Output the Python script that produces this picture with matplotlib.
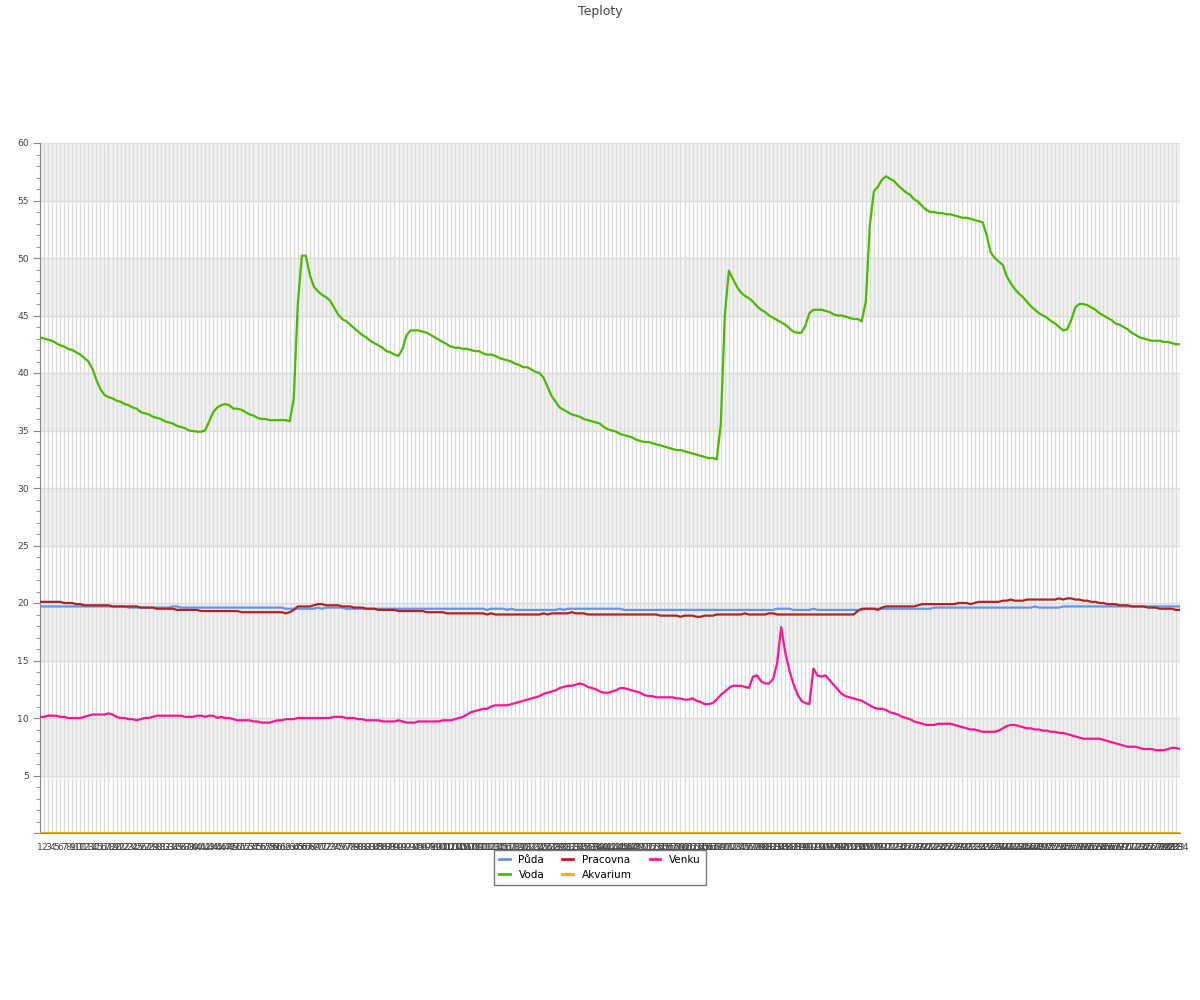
import matplotlib
matplotlib.use("Agg")
import matplotlib.pyplot as plt
from matplotlib.ticker import MultipleLocator, FuncFormatter
from matplotlib.lines import Line2D

labels = [str(i) for i in range(1, 285)]

puda = [
    19.7, 19.7, 19.7, 19.7, 19.7, 19.7, 19.7, 19.7, 19.7, 19.7,
    19.7, 19.7, 19.7, 19.7, 19.7, 19.7, 19.7, 19.7, 19.7, 19.7,
    19.7, 19.7, 19.6, 19.6, 19.6, 19.6, 19.6, 19.6, 19.6, 19.6,
    19.6, 19.6, 19.6, 19.7, 19.7, 19.6, 19.6, 19.6, 19.6, 19.6,
    19.6, 19.6, 19.6, 19.6, 19.6, 19.6, 19.6, 19.6, 19.6, 19.6,
    19.6, 19.6, 19.6, 19.6, 19.6, 19.6, 19.6, 19.6, 19.6, 19.6,
    19.6, 19.5, 19.5, 19.5, 19.5, 19.5, 19.5, 19.5, 19.5, 19.6,
    19.5, 19.6, 19.6, 19.6, 19.6, 19.6, 19.5, 19.5, 19.5, 19.5,
    19.5, 19.5, 19.5, 19.5, 19.5, 19.5, 19.5, 19.5, 19.5, 19.5,
    19.5, 19.5, 19.5, 19.5, 19.5, 19.5, 19.5, 19.5, 19.5, 19.5,
    19.5, 19.5, 19.5, 19.5, 19.5, 19.5, 19.5, 19.5, 19.5, 19.5,
    19.5, 19.4, 19.5, 19.5, 19.5, 19.5, 19.4, 19.5, 19.4, 19.4,
    19.4, 19.4, 19.4, 19.4, 19.4, 19.4, 19.4, 19.4, 19.4, 19.5,
    19.4, 19.5, 19.5, 19.5, 19.5, 19.5, 19.5, 19.5, 19.5, 19.5,
    19.5, 19.5, 19.5, 19.5, 19.5, 19.4, 19.4, 19.4, 19.4, 19.4,
    19.4, 19.4, 19.4, 19.4, 19.4, 19.4, 19.4, 19.4, 19.4, 19.4,
    19.4, 19.4, 19.4, 19.4, 19.4, 19.4, 19.4, 19.4, 19.4, 19.4,
    19.4, 19.4, 19.4, 19.4, 19.4, 19.4, 19.4, 19.4, 19.4, 19.4,
    19.4, 19.4, 19.4, 19.5, 19.5, 19.5, 19.5, 19.4, 19.4, 19.4,
    19.4, 19.4, 19.5, 19.4, 19.4, 19.4, 19.4, 19.4, 19.4, 19.4,
    19.4, 19.4, 19.4, 19.4, 19.4, 19.5, 19.5, 19.5, 19.5, 19.5,
    19.5, 19.5, 19.5, 19.5, 19.5, 19.5, 19.5, 19.5, 19.5, 19.5,
    19.5, 19.5, 19.6, 19.6, 19.6, 19.6, 19.6, 19.6, 19.6, 19.6,
    19.6, 19.6, 19.6, 19.6, 19.6, 19.6, 19.6, 19.6, 19.6, 19.6,
    19.6, 19.6, 19.6, 19.6, 19.6, 19.6, 19.6, 19.7, 19.6, 19.6,
    19.6, 19.6, 19.6, 19.6, 19.7, 19.7, 19.7, 19.7, 19.7, 19.7,
    19.7, 19.7, 19.7, 19.7, 19.7, 19.7, 19.7, 19.7, 19.7, 19.7,
    19.7, 19.7, 19.7, 19.7, 19.7, 19.7, 19.7, 19.7, 19.7, 19.7,
    19.7, 19.7, 19.7, 19.7,
]

voda = [
    43.1, 43.0, 42.9, 42.8, 42.6, 42.4, 42.3, 42.1, 42.0, 41.8,
    41.6, 41.3, 41.0, 40.4, 39.4, 38.6, 38.1, 37.9, 37.8, 37.6,
    37.5, 37.3, 37.2, 37.0, 36.9, 36.6, 36.5, 36.4, 36.2, 36.1,
    36.0, 35.8, 35.7, 35.6, 35.4, 35.3, 35.2, 35.0, 34.95, 34.9,
    34.9, 35.0, 35.8, 36.6, 37.0, 37.2, 37.3, 37.2, 36.9, 36.9,
    36.8, 36.6, 36.4, 36.3, 36.1, 36.0, 36.0, 35.9, 35.9, 35.9,
    35.9, 35.9, 35.8, 37.8, 46.0, 50.2, 50.2, 48.5, 47.5, 47.1,
    46.8, 46.6, 46.3, 45.7, 45.1, 44.7, 44.5, 44.2, 43.9, 43.6,
    43.3, 43.1, 42.8, 42.6, 42.4, 42.2, 41.9, 41.8, 41.6, 41.5,
    42.1, 43.3, 43.7, 43.7, 43.7, 43.6, 43.5, 43.3, 43.1, 42.9,
    42.7, 42.5, 42.3, 42.2, 42.2, 42.1, 42.1, 42.0, 41.9, 41.9,
    41.7, 41.6, 41.6, 41.5, 41.3, 41.2, 41.1, 41.0, 40.8, 40.7,
    40.5, 40.5, 40.3, 40.1, 40.0, 39.6, 38.8, 38.0, 37.5, 37.0,
    36.8, 36.6, 36.4, 36.3, 36.2, 36.0, 35.9, 35.8, 35.7, 35.6,
    35.3, 35.1, 35.0, 34.9, 34.7, 34.6, 34.5, 34.4, 34.2, 34.1,
    34.0, 34.0, 33.9, 33.8, 33.7, 33.6, 33.5, 33.4, 33.3, 33.3,
    33.2, 33.1, 33.0, 32.9, 32.8, 32.7, 32.6, 32.6, 32.5, 35.5,
    45.0, 48.9, 48.2, 47.5, 47.0, 46.7, 46.5, 46.2, 45.8, 45.5,
    45.3, 45.0, 44.8, 44.6, 44.4, 44.2, 43.9, 43.6, 43.5, 43.5,
    44.1, 45.2, 45.5, 45.5, 45.5, 45.4, 45.3, 45.1, 45.0, 45.0,
    44.9, 44.8, 44.7, 44.7, 44.5, 46.2, 52.8, 55.8, 56.2, 56.8,
    57.1, 56.9, 56.7, 56.3, 56.0, 55.7, 55.5, 55.1, 54.9, 54.5,
    54.2, 54.0, 54.0, 53.9, 53.9, 53.8, 53.8, 53.7, 53.6, 53.5,
    53.5, 53.4, 53.3, 53.2, 53.1, 52.0, 50.5, 50.0, 49.7, 49.4,
    48.4, 47.8, 47.3, 46.9, 46.6, 46.2, 45.8, 45.5, 45.2, 45.0,
    44.8, 44.5, 44.3, 44.0, 43.7, 43.8, 44.6, 45.7, 46.0, 46.0,
    45.9, 45.7, 45.5, 45.2, 45.0, 44.8, 44.6, 44.3, 44.2, 44.0,
    43.8, 43.5, 43.3, 43.1, 43.0, 42.9, 42.8, 42.8, 42.8, 42.7,
    42.7, 42.6, 42.5, 42.5,
]

pracovna = [
    20.1, 20.1, 20.1, 20.1, 20.1, 20.1, 20.0, 20.0, 20.0, 19.9,
    19.9, 19.8, 19.8, 19.8, 19.8, 19.8, 19.8, 19.8, 19.7, 19.7,
    19.7, 19.7, 19.7, 19.7, 19.7, 19.6, 19.6, 19.6, 19.6, 19.5,
    19.5, 19.5, 19.5, 19.5, 19.4, 19.4, 19.4, 19.4, 19.4, 19.4,
    19.3, 19.3, 19.3, 19.3, 19.3, 19.3, 19.3, 19.3, 19.3, 19.3,
    19.2, 19.2, 19.2, 19.2, 19.2, 19.2, 19.2, 19.2, 19.2, 19.2,
    19.2, 19.1, 19.2, 19.4, 19.7, 19.7, 19.7, 19.7, 19.8, 19.9,
    19.9, 19.8, 19.8, 19.8, 19.8, 19.7, 19.7, 19.7, 19.6, 19.6,
    19.6, 19.5, 19.5, 19.5, 19.4, 19.4, 19.4, 19.4, 19.4, 19.3,
    19.3, 19.3, 19.3, 19.3, 19.3, 19.3, 19.2, 19.2, 19.2, 19.2,
    19.2, 19.1, 19.1, 19.1, 19.1, 19.1, 19.1, 19.1, 19.1, 19.1,
    19.1, 19.0, 19.1, 19.0, 19.0, 19.0, 19.0, 19.0, 19.0, 19.0,
    19.0, 19.0, 19.0, 19.0, 19.0, 19.1, 19.0, 19.1, 19.1, 19.1,
    19.1, 19.1, 19.2, 19.1, 19.1, 19.1, 19.0, 19.0, 19.0, 19.0,
    19.0, 19.0, 19.0, 19.0, 19.0, 19.0, 19.0, 19.0, 19.0, 19.0,
    19.0, 19.0, 19.0, 19.0, 18.9, 18.9, 18.9, 18.9, 18.9, 18.8,
    18.9, 18.9, 18.9, 18.8, 18.8, 18.9, 18.9, 18.9, 19.0, 19.0,
    19.0, 19.0, 19.0, 19.0, 19.0, 19.1, 19.0, 19.0, 19.0, 19.0,
    19.0, 19.1, 19.1, 19.0, 19.0, 19.0, 19.0, 19.0, 19.0, 19.0,
    19.0, 19.0, 19.0, 19.0, 19.0, 19.0, 19.0, 19.0, 19.0, 19.0,
    19.0, 19.0, 19.0, 19.3, 19.5, 19.5, 19.5, 19.5, 19.4, 19.6,
    19.7, 19.7, 19.7, 19.7, 19.7, 19.7, 19.7, 19.7, 19.8, 19.9,
    19.9, 19.9, 19.9, 19.9, 19.9, 19.9, 19.9, 19.9, 20.0, 20.0,
    20.0, 19.9, 20.0, 20.1, 20.1, 20.1, 20.1, 20.1, 20.1, 20.2,
    20.2, 20.3, 20.2, 20.2, 20.2, 20.3, 20.3, 20.3, 20.3, 20.3,
    20.3, 20.3, 20.3, 20.4, 20.3, 20.4, 20.4, 20.3, 20.3, 20.2,
    20.2, 20.1, 20.1, 20.0, 20.0, 19.9, 19.9, 19.9, 19.8, 19.8,
    19.8, 19.7, 19.7, 19.7, 19.7, 19.6, 19.6, 19.6, 19.5, 19.5,
    19.5, 19.5, 19.4, 19.4,
]

akvarium = [
    0.0, 0.0, 0.0, 0.0, 0.0, 0.0, 0.0, 0.0, 0.0, 0.0,
    0.0, 0.0, 0.0, 0.0, 0.0, 0.0, 0.0, 0.0, 0.0, 0.0,
    0.0, 0.0, 0.0, 0.0, 0.0, 0.0, 0.0, 0.0, 0.0, 0.0,
    0.0, 0.0, 0.0, 0.0, 0.0, 0.0, 0.0, 0.0, 0.0, 0.0,
    0.0, 0.0, 0.0, 0.0, 0.0, 0.0, 0.0, 0.0, 0.0, 0.0,
    0.0, 0.0, 0.0, 0.0, 0.0, 0.0, 0.0, 0.0, 0.0, 0.0,
    0.0, 0.0, 0.0, 0.0, 0.0, 0.0, 0.0, 0.0, 0.0, 0.0,
    0.0, 0.0, 0.0, 0.0, 0.0, 0.0, 0.0, 0.0, 0.0, 0.0,
    0.0, 0.0, 0.0, 0.0, 0.0, 0.0, 0.0, 0.0, 0.0, 0.0,
    0.0, 0.0, 0.0, 0.0, 0.0, 0.0, 0.0, 0.0, 0.0, 0.0,
    0.0, 0.0, 0.0, 0.0, 0.0, 0.0, 0.0, 0.0, 0.0, 0.0,
    0.0, 0.0, 0.0, 0.0, 0.0, 0.0, 0.0, 0.0, 0.0, 0.0,
    0.0, 0.0, 0.0, 0.0, 0.0, 0.0, 0.0, 0.0, 0.0, 0.0,
    0.0, 0.0, 0.0, 0.0, 0.0, 0.0, 0.0, 0.0, 0.0, 0.0,
    0.0, 0.0, 0.0, 0.0, 0.0, 0.0, 0.0, 0.0, 0.0, 0.0,
    0.0, 0.0, 0.0, 0.0, 0.0, 0.0, 0.0, 0.0, 0.0, 0.0,
    0.0, 0.0, 0.0, 0.0, 0.0, 0.0, 0.0, 0.0, 0.0, 0.0,
    0.0, 0.0, 0.0, 0.0, 0.0, 0.0, 0.0, 0.0, 0.0, 0.0,
    0.0, 0.0, 0.0, 0.0, 0.0, 0.0, 0.0, 0.0, 0.0, 0.0,
    0.0, 0.0, 0.0, 0.0, 0.0, 0.0, 0.0, 0.0, 0.0, 0.0,
    0.0, 0.0, 0.0, 0.0, 0.0, 0.0, 0.0, 0.0, 0.0, 0.0,
    0.0, 0.0, 0.0, 0.0, 0.0, 0.0, 0.0, 0.0, 0.0, 0.0,
    0.0, 0.0, 0.0, 0.0, 0.0, 0.0, 0.0, 0.0, 0.0, 0.0,
    0.0, 0.0, 0.0, 0.0, 0.0, 0.0, 0.0, 0.0, 0.0, 0.0,
    0.0, 0.0, 0.0, 0.0, 0.0, 0.0, 0.0, 0.0, 0.0, 0.0,
    0.0, 0.0, 0.0, 0.0, 0.0, 0.0, 0.0, 0.0, 0.0, 0.0,
    0.0, 0.0, 0.0, 0.0, 0.0, 0.0, 0.0, 0.0, 0.0, 0.0,
    0.0, 0.0, 0.0, 0.0, 0.0, 0.0, 0.0, 0.0, 0.0, 0.0,
    0.0, 0.0, 0.0, 0.0,
]

venku = [
    10.1, 10.1, 10.2, 10.2, 10.2, 10.1, 10.1, 10.0, 10.0, 10.0,
    10.0, 10.1, 10.2, 10.3, 10.3, 10.3, 10.3, 10.4, 10.3, 10.1,
    10.0, 10.0, 9.9, 9.9, 9.8, 9.9, 10.0, 10.0, 10.1, 10.2,
    10.2, 10.2, 10.2, 10.2, 10.2, 10.2, 10.1, 10.1, 10.1, 10.2,
    10.2, 10.1, 10.2, 10.2, 10.0, 10.1, 10.0, 10.0, 9.9, 9.8,
    9.8, 9.8, 9.8, 9.7, 9.7, 9.6, 9.6, 9.6, 9.7, 9.8,
    9.8, 9.9, 9.9, 9.9, 10.0, 10.0, 10.0, 10.0, 10.0, 10.0,
    10.0, 10.0, 10.0, 10.1, 10.1, 10.1, 10.0, 10.0, 10.0, 9.9,
    9.9, 9.8, 9.8, 9.8, 9.8, 9.7, 9.7, 9.7, 9.7, 9.8,
    9.7, 9.6, 9.6, 9.6, 9.7, 9.7, 9.7, 9.7, 9.7, 9.7,
    9.8, 9.8, 9.8, 9.9, 10.0, 10.1, 10.3, 10.5, 10.6, 10.7,
    10.8, 10.8, 11.0, 11.1, 11.1, 11.1, 11.1, 11.2, 11.3, 11.4,
    11.5, 11.6, 11.7, 11.8, 11.9, 12.1, 12.2, 12.3, 12.4, 12.6,
    12.7, 12.8, 12.8, 12.9, 13.0, 12.9, 12.7, 12.6, 12.5, 12.3,
    12.2, 12.2, 12.3, 12.4, 12.6, 12.6, 12.5, 12.4, 12.3, 12.2,
    12.0, 11.9, 11.9, 11.8, 11.8, 11.8, 11.8, 11.8, 11.7, 11.7,
    11.6, 11.6, 11.7, 11.5, 11.4, 11.2, 11.2, 11.3, 11.6, 12.0,
    12.3, 12.6, 12.8, 12.8, 12.8, 12.7, 12.6, 13.6, 13.7, 13.2,
    13.0, 13.0, 13.4, 14.8, 17.9, 15.7, 14.2, 13.0, 12.1, 11.5,
    11.3, 11.2, 14.3, 13.7, 13.6, 13.7, 13.3, 12.9, 12.5, 12.1,
    11.9, 11.8, 11.7, 11.6, 11.5, 11.3, 11.1, 10.9, 10.8, 10.8,
    10.7, 10.5, 10.4, 10.3, 10.1, 10.0, 9.9, 9.7, 9.6, 9.5,
    9.4, 9.4, 9.4, 9.5, 9.5, 9.5, 9.5, 9.4, 9.3, 9.2,
    9.1, 9.0, 9.0, 8.9, 8.8, 8.8, 8.8, 8.8, 8.9, 9.1,
    9.3, 9.4, 9.4, 9.3, 9.2, 9.1, 9.1, 9.0, 9.0, 8.9,
    8.9, 8.8, 8.8, 8.7, 8.7, 8.6, 8.5, 8.4, 8.3, 8.2,
    8.2, 8.2, 8.2, 8.2, 8.1, 8.0, 7.9, 7.8, 7.7, 7.6,
    7.5, 7.5, 7.5, 7.4, 7.3, 7.3, 7.3, 7.2, 7.2, 7.2,
    7.3, 7.4, 7.4, 7.3,
]

series = [
    ("Půda", puda, "#6495ED"),
    ("Pracovna", pracovna, "#B22222"),
    ("Venku", venku, "#FF1493"),
    ("Voda", voda, "#4CB800"),
    ("Akvarium", akvarium, "#FFA500"),
]

W, H = 1200, 1000
fig = plt.figure(figsize=(W / 100, H / 100), dpi=100)
ax = fig.add_axes([40 / W, 1 - 833 / H, 1140 / W, 690 / H])

x = list(range(len(labels)))
ax.set_xlim(0, len(labels) - 1)
ax.set_ylim(0, 60)

for lo in range(5, 60, 10):
    ax.axhspan(lo, lo + 5, color="#f2f2f2", zorder=0, lw=0)

handles = {}
for name, vals, col in series:
    ax.plot(x, vals, color=col, lw=1.6, zorder=3, solid_joinstyle="round")
    handles[name] = Line2D([], [], color=col, lw=2)

ax.set_xticks(x)
ax.set_xticklabels(labels, fontsize=6.7, color="#444444")
ax.tick_params(axis="x", length=0, pad=7)
ax.grid(axis="x", color="#dcdcdc", lw=1, zorder=1)
ax.grid(axis="y", which="major", color="#dcdcdc", lw=1, zorder=1)
ax.set_axisbelow(True)

ax.yaxis.set_major_locator(MultipleLocator(5))
ax.yaxis.set_minor_locator(MultipleLocator(1))
ax.yaxis.set_major_formatter(FuncFormatter(lambda v, p: "" if v == 0 else f"{v:g}"))
ax.tick_params(axis="y", which="major", length=5, color="#888888", labelsize=6.7,
               labelcolor="#444444", pad=3)
ax.tick_params(axis="y", which="minor", length=3, color="#888888")

for s in ("top", "right"):
    ax.spines[s].set_visible(False)
ax.spines["left"].set_color("#888888")
ax.spines["bottom"].set_color("#888888")

fig.text(0.5, 1 - 11 / H, "Teploty", ha="center", va="center", fontsize=9, color="#444444")

order = ["Půda", "Voda", "Pracovna", "Akvarium", "Venku"]
leg = fig.legend([handles[n] for n in order], order, ncol=3, loc="upper center",
                 bbox_to_anchor=(0.5, 1 - 850 / H), borderaxespad=0, fontsize=7.5,
                 frameon=True, fancybox=False, edgecolor="#777777", framealpha=1,
                 handlelength=1.0, handletextpad=0.85, columnspacing=1.75,
                 labelspacing=0.5, borderpad=0.45)
leg.get_frame().set_linewidth(1)

fig.savefig("out.png", dpi=100, facecolor="white")
